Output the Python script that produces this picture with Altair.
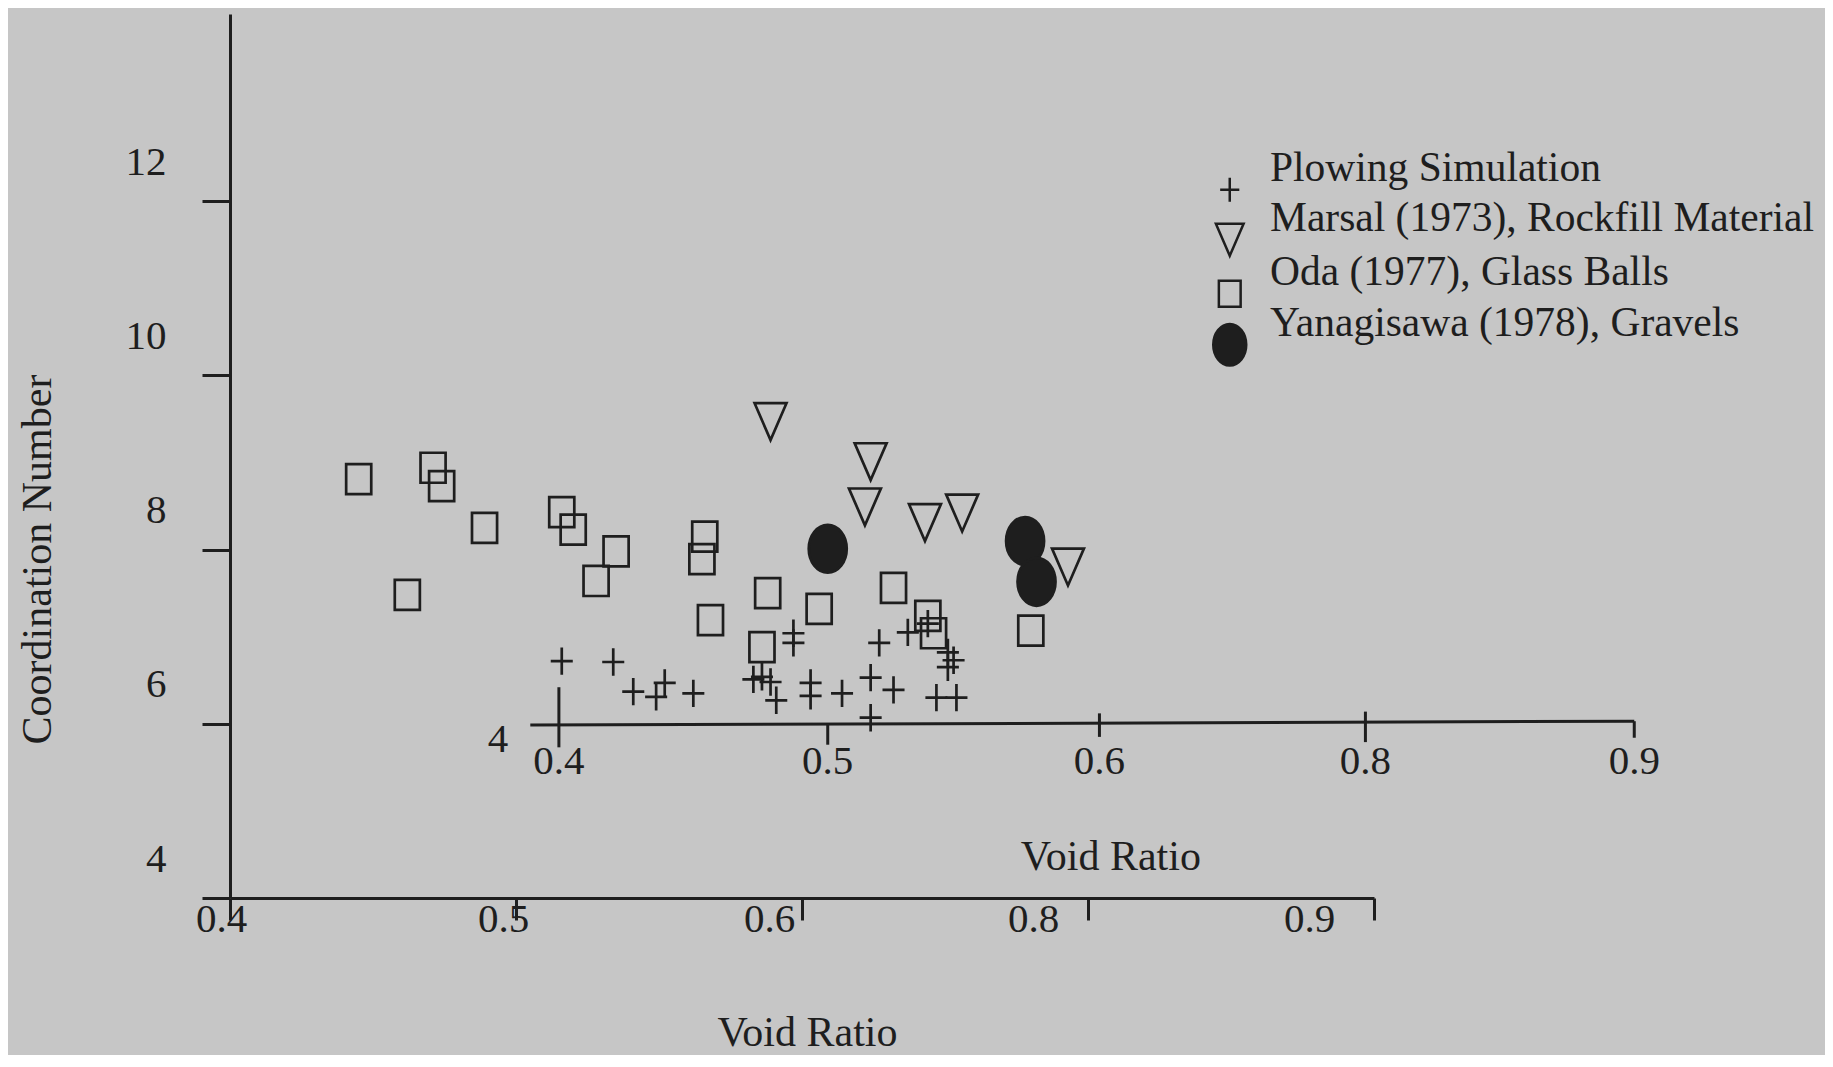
import altair as alt
import pandas as pd

# ---------------- data (in the outer-axis units) ----------------
series_names = [
    "Plowing Simulation",
    "Marsal (1973), Rockfill Material",
    "Oda (1977), Glass Balls",
    "Yanagisawa (1978), Gravels",
]

plow_x = [0.516, 0.534, 0.541, 0.549, 0.552, 0.562, 0.583, 0.586, 0.589, 0.591, 0.597, 0.597, 0.603,
          0.603, 0.614, 0.624, 0.624, 0.627, 0.632, 0.637, 0.644, 0.651, 0.653, 0.651, 0.647, 0.654]
plow_y = [6.72, 6.71, 6.37, 6.31, 6.47, 6.35, 6.51, 6.54, 6.48, 6.27, 7.04, 6.93, 6.47,
          6.32, 6.35, 6.53, 6.07, 6.93, 6.39, 7.05, 7.15, 6.82, 6.73, 6.65, 6.30, 6.30]

marsal_x = [0.589, 0.624, 0.622, 0.643, 0.656, 0.693]
marsal_y = [9.47, 9.01, 8.49, 8.31, 8.42, 7.80]

oda_x = [0.445, 0.471, 0.474, 0.489, 0.462, 0.516, 0.520, 0.535, 0.528, 0.566,
         0.565, 0.568, 0.588, 0.586, 0.606, 0.632, 0.644, 0.646, 0.680]
oda_y = [8.81, 8.94, 8.73, 8.25, 7.48, 8.43, 8.23, 7.98, 7.64, 8.15,
         7.89, 7.19, 7.50, 6.88, 7.32, 7.56, 7.24, 7.04, 7.07]

yana_x = [0.609, 0.678, 0.682]
yana_y = [8.01, 8.10, 7.63]

# outer axes
outer_x_ticks = [0.4, 0.5, 0.6, 0.7, 0.8]
outer_x_labels = ["0.4", "0.5", "0.6", "0.8", "0.9"]
outer_y_ticks = [4, 6, 8, 10, 12]

# inner (superimposed) axis, its ticks read in the outer units
inner_x_ticks = [0.515, 0.609, 0.704, 0.797, 0.891]
inner_x_labels = ["0.4", "0.5", "0.6", "0.8", "0.9"]
inner_y_label = ["4"]
title_text = ["Void Ratio"]

# ---------------- layout / style constants ----------------
FONT = "Liberation Serif"
INK = "#1e1e1e"
BG = "#c6c6c6"
W, H = 1144, 884

frames = []
for name, xs, ys in [
    (series_names[2], oda_x, oda_y),
    (series_names[0], plow_x, plow_y),
    (series_names[1], marsal_x, marsal_y),
    (series_names[3], yana_x, yana_y),
]:
    frames.append(pd.DataFrame({"x": xs, "y": ys, "series": name}))
df = pd.concat(frames, ignore_index=True)

shape_paths = [
    "M-0.58,0L0.58,0M0,-0.72L0,0.72",
    "M-0.84,-0.97L0.84,-0.97L0,0.97Z",
    "M-0.66,-0.79L0.66,-0.79L0.66,0.79L-0.66,0.79Z",
    "M0,-1.26C0.552,-1.26,1,-0.696,1,0C1,0.696,0.552,1.26,0,1.26"
    "C-0.552,1.26,-1,0.696,-1,0C-1,-0.696,-0.552,-1.26,0,-1.26Z",
]
fills = ["transparent", "transparent", "transparent", INK]
strokes = [INK, INK, INK, INK]

xscale = alt.Scale(domain=[0.4, 0.8], nice=False, zero=False)
yscale = alt.Scale(domain=[4, 14.15], nice=False, zero=False)

label_expr = "[" + ",".join(f"'{s}'" for s in outer_x_labels) + "][round((datum.value-0.4)*10)]"
x_label_offsets = [-9, -13, -33, -55, -65]
x_offset_cond = {
    "condition": [
        {"test": f"abs(datum.value-{v})<0.01", "value": o}
        for v, o in zip(outer_x_ticks, x_label_offsets)
    ],
    "value": 0,
}

x_axis = alt.Axis(
    values=outer_x_ticks, labelExpr=label_expr, grid=False,
    tickSize=22, tickWidth=3, domainWidth=3, domainColor=INK, tickColor=INK,
    labelFont=FONT, labelFontSize=41, labelColor=INK, labelPadding=-21,
    labelOffset=x_offset_cond, labelFlush=False, labelOverlap=False,
    title="Void Ratio", titleFont=FONT, titleFontSize=42, titleFontWeight="normal",
    titleColor=INK, titleX=577, titleY=134, titleAlign="center", titleBaseline="middle",
)
y_axis = alt.Axis(
    values=outer_y_ticks, format="d", grid=False,
    tickSize=28, tickWidth=3, domainWidth=3, domainColor=INK, tickColor=INK,
    labelFont=FONT, labelFontSize=41, labelColor=INK, labelPadding=36,
    labelOffset=-39, labelBaseline="middle", labelFlush=False, labelOverlap=False,
    title="Coordination Number", titleFont=FONT, titleFontSize=42, titleFontWeight="normal",
    titleColor=INK, titleAngle=270, titleX=-193, titleY=545,
    titleAlign="center", titleBaseline="middle",
)

legend = alt.Legend(
    title=None, orient="none", legendX=979, legendY=155, padding=0,
    labelFont=FONT, labelFontSize=41.5, labelColor=INK, labelBaseline="bottom",
    labelOffset=19.5, labelLimit=900, symbolSize=1089, symbolStrokeWidth=2.5,
    rowPadding=-10,
)


def X(field="x"):
    return alt.X(f"{field}:Q", scale=xscale, axis=x_axis)


def Y(field="y"):
    return alt.Y(f"{field}:Q", scale=yscale, axis=y_axis)


# inner axis line
inner_line_df = pd.DataFrame({"x": [0.505], "x2": [inner_x_ticks[-1]], "y": [5.985], "y2": [6.03]})
inner_line = alt.Chart(inner_line_df).mark_rule(strokeWidth=3, color=INK).encode(
    x=X(), x2="x2:Q", y=Y(), y2="y2:Q",
)

tick_lo = [5.73, 5.76, 5.85, 5.79, 5.84]
tick_hi = [6.42, 6.00, 6.12, 6.14, 6.03]
inner_ticks_df = pd.DataFrame({"x": inner_x_ticks, "y": tick_lo, "y2": tick_hi})
inner_ticks = alt.Chart(inner_ticks_df).mark_rule(strokeWidth=3, color=INK).encode(
    x=X(), y=Y(), y2="y2:Q",
)

inner_lab_df = pd.DataFrame({"x": inner_x_ticks, "y": [5.56] * 5, "t": inner_x_labels})
inner_labels = alt.Chart(inner_lab_df).mark_text(
    font=FONT, fontSize=41, color=INK, align="center", baseline="middle"
).encode(x=X(), y=Y(), text="t:N")

inner_extra_df = pd.DataFrame({
    "x": [0.4937, 0.708],
    "y": [5.81, 4.47],
    "t": inner_y_label + title_text,
    "fs": [41, 42],
})
inner_extra = alt.Chart(inner_extra_df).mark_text(
    font=FONT, color=INK, align="center", baseline="middle"
).encode(
    x=X(), y=Y(), text="t:N",
    size=alt.Size("fs:Q", scale=None, legend=None),
)

points = alt.Chart(df).mark_point(opacity=1, strokeWidth=2.7, size=1444).encode(
    x=X(),
    y=Y(),
    shape=alt.Shape("series:N", scale=alt.Scale(domain=series_names, range=shape_paths), legend=legend),
    fill=alt.Fill("series:N", scale=alt.Scale(domain=series_names, range=fills), legend=legend),
    stroke=alt.Stroke("series:N", scale=alt.Scale(domain=series_names, range=strokes), legend=legend),
)

chart = alt.layer(points, inner_line, inner_ticks, inner_labels, inner_extra).properties(
    width=W, height=H,
    autosize=alt.AutoSizeParams(type="none"),
    padding={"left": 222, "top": 6, "right": 451, "bottom": 157},
    background=BG,
).configure_view(stroke=None)

chart.save("out.html", embed_options={"renderer": "svg", "actions": False})
